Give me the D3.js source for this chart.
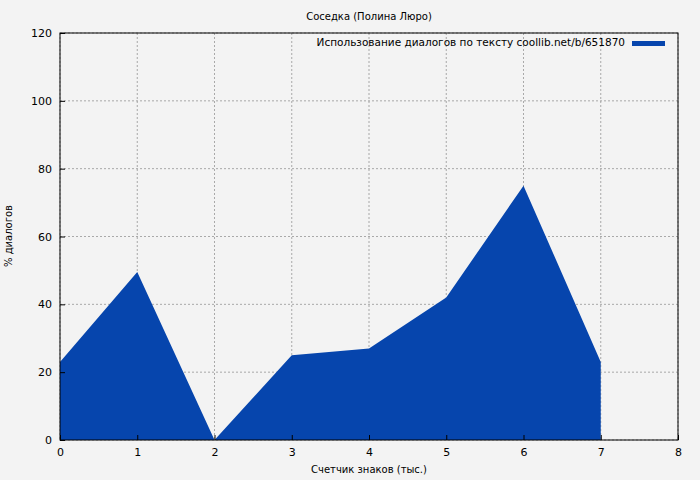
<!DOCTYPE html>
<html><head><meta charset="UTF-8">
<script src="https://d3js.org/d3.v7.min.js"></script>
<style>body{margin:0;background:#f3f3f3}text{font-family:"DejaVu Sans",sans-serif}</style>
</head><body><svg id="c" width="700" height="480"></svg>
<script>
const xs = [0, 1, 2, 3, 4, 5, 6, 7];
const ys = [23, 49.5, 0, 25, 27, 42, 75, 23];
const xTicks = [0, 1, 2, 3, 4, 5, 6, 7, 8];
const yTicks = [0, 20, 40, 60, 80, 100, 120];

const svg = d3.select("#c");
const m = {l: 60, r: 678, t: 33, b: 440};
const x = d3.scaleLinear().domain([0, 8]).range([m.l, m.r]);
const y = d3.scaleLinear().domain([0, 120]).range([m.b, m.t]);
svg.append("rect").attr("width", 700).attr("height", 480).attr("fill", "#f3f3f3");

const g = svg.append("g");
xTicks.forEach(t => g.append("line").attr("x1", x(t)).attr("x2", x(t)).attr("y1", m.t).attr("y2", m.b)
  .attr("stroke", "#888").attr("stroke-dasharray", "2,2").attr("stroke-width", 0.7));
yTicks.forEach(t => g.append("line").attr("y1", y(t)).attr("y2", y(t)).attr("x1", m.l).attr("x2", m.r)
  .attr("stroke", "#888").attr("stroke-dasharray", "2,2").attr("stroke-width", 0.7));

const area = d3.area().x((d, i) => x(xs[i])).y0(y(0)).y1(d => y(d));
svg.append("path").datum(ys).attr("d", area).attr("fill", "#0645ad");

svg.append("rect").attr("x", m.l).attr("y", m.t).attr("width", m.r - m.l).attr("height", m.b - m.t)
  .attr("fill", "none").attr("stroke", "#000");

svg.append("g").attr("transform", `translate(0,${m.b})`)
  .call(d3.axisBottom(x).tickValues(xTicks).tickSize(-5).tickPadding(8).tickFormat(d3.format("d")))
  .call(a => a.select(".domain").remove()).selectAll("text").attr("font-size", 11);
svg.append("g").attr("transform", `translate(${m.l},0)`)
  .call(d3.axisLeft(y).tickValues(yTicks).tickSize(-5).tickPadding(8))
  .call(a => a.select(".domain").remove()).selectAll("text").attr("font-size", 11);

svg.append("text").attr("x", 369).attr("y", 20).attr("text-anchor", "middle").attr("font-size", 10)
  .text("Соседка (Полина Люро)");
svg.append("text").attr("x", 369).attr("y", 473).attr("text-anchor", "middle").attr("font-size", 10)
  .text("Счетчик знаков (тыс.)");
svg.append("text").attr("transform", "translate(12,236) rotate(-90)").attr("text-anchor", "middle")
  .attr("font-size", 10).text("% диалогов");

svg.append("text").attr("x", 625).attr("y", 46).attr("text-anchor", "end").attr("font-size", 10.5)
  .text("Использование диалогов по тексту coollib.net/b/651870");
svg.append("rect").attr("x", 632).attr("y", 41).attr("width", 33).attr("height", 5).attr("fill", "#0645ad");
</script></body></html>
